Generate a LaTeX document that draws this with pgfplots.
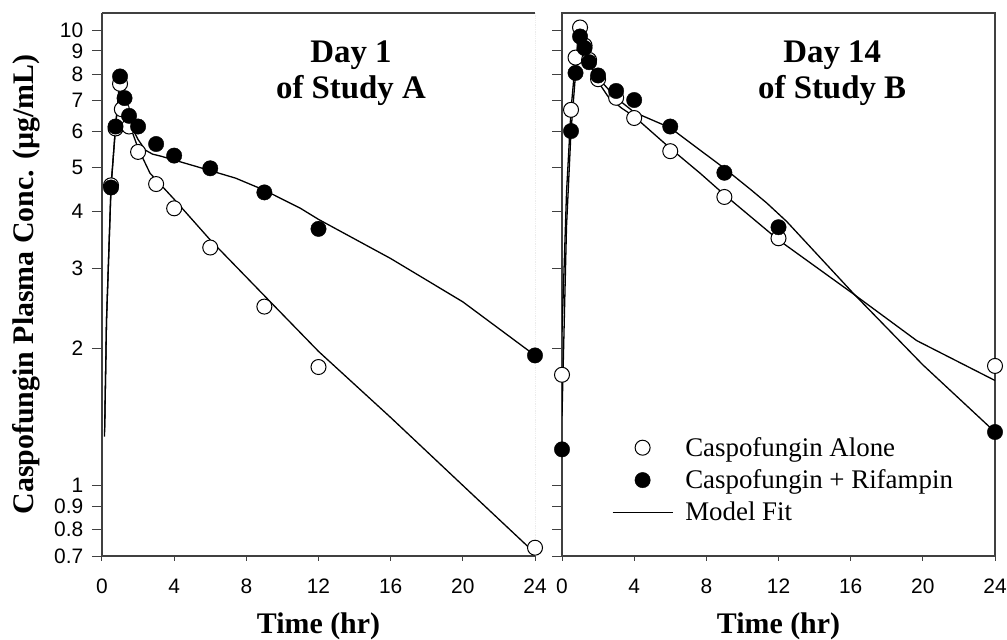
\documentclass[border=0pt]{standalone}
\usepackage{fontspec}
\setmainfont{Liberation Serif}
\setsansfont{Liberation Sans}
\usepackage{pgfplots}
\pgfplotsset{compat=1.18}

\pgfplotsset{
  pkpanel/.style={
    scale only axis, width=433bp, height=543bp,
    anchor=south west,
    xmin=0, xmax=24, ymin=0.7, ymax=10.9,
    xtick={0,4,...,24},
    ytick={0.7,0.8,0.9,1,2,3,4,5,6,7,8,9,10},
    minor ytick={}, minor xtick={},
    tick align=outside, tick pos=left,
    xtick style={/pgfplots/major tick length=5bp, line width=1bp, black!75},
    ytick style={/pgfplots/major tick length=10bp, line width=1bp, black!75},
    /pgf/number format/assume math mode=true,
    xticklabel style={font=\fontsize{21}{24}\selectfont\sffamily, yshift=-15bp},
    yticklabel style={font=\fontsize{21}{24}\selectfont\sffamily, xshift=-11bp},
    axis line style={black!75, line width=1.2bp},
    xlabel={\textbf{Time (hr)}},
    xlabel style={font=\fontsize{30}{32}\selectfont, at={(axis description cs:0.5,0)}, anchor=base, yshift=-77bp},
  },
  pkfit/.style={black, line width=1.3bp, no markers},
  pkalone/.style={only marks, mark=*, mark size=7.5bp, mark options={fill=white, draw=black, line width=1bp}},
  pkrif/.style={only marks, mark=*, mark size=7.7bp, mark options={fill=black, draw=black}},
}

\begin{document}
\begin{tikzpicture}
\useasboundingbox (-102bp,-84bp) rectangle (905bp,556bp);

% Day 1, study A
\begin{axis}[ymode=log, pkpanel, at={(0bp,0bp)},
  axis y line*=left, axis x line*=box,
  xticklabels={0,4,8,12,16,20,24},
  yticklabels={0.7,0.8,0.9,1,2,3,4,5,6,7,8,9,10},
  ylabel={\textbf{Caspofungin Plasma Conc. (µg/mL)}},
  ylabel style={font=\fontsize{30}{32}\selectfont, at={(axis description cs:-0.159,0.5)}, anchor=base},
]
\addplot[pkfit] coordinates {(0.14,1.28) (0.25,2.3) (0.5,4.55) (0.75,6.1) (1,7.75) (1.25,7.0) (1.5,6.25) (2,5.5) (2.66,4.85) (4,4.25) (6,3.46) (9,2.61) (12,1.97) (16,1.41) (20,1.0) (24,0.71)};
\addplot[pkfit] coordinates {(0.15,1.34) (0.25,2.3) (0.5,4.5) (0.75,6.15) (1,7.9) (1.25,7.05) (1.5,6.3) (2,5.75) (2.4,5.45) (2.8,5.34) (3.3,5.28) (5.2,5.02) (7.4,4.73) (9,4.45) (11,4.06) (12,3.84) (16,3.15) (20,2.53) (24,1.93)};
\addplot[pkalone] coordinates {(0.5,4.56) (0.75,6.08) (1,7.62) (1.1,6.7) (1.5,6.14) (2,5.40) (3,4.59) (4,4.06) (6,3.33) (9,2.47) (12,1.82) (24,0.73)};
\addplot[pkrif] coordinates {(0.5,4.51) (0.75,6.14) (1,7.91) (1.25,7.09) (1.5,6.48) (2,6.14) (3,5.62) (4,5.30) (6,4.97) (9,4.40) (12,3.66) (24,1.93)};
\draw[black!60, line width=0.8bp, densely dotted] (rel axis cs:1,0) -- (rel axis cs:1,1);
\node[font=\fontsize{33}{37}\selectfont\bfseries, align=center, anchor=north, inner sep=0pt] at (rel axis cs:0.575,0.95) {Day 1\\of Study A};
\end{axis}

% Day 14, study B
\begin{axis}[ymode=log, pkpanel, at={(460bp,0bp)},
  xticklabels={0,4,8,12,16,20,24},
  yticklabels={},
  legend style={draw=none, fill=none, at={(0.108,0.14)}, anchor=west,
    font=\fontsize{27}{30}\selectfont, row sep=8bp,
    /tikz/every odd column/.style={column sep=10bp}},
  legend cell align=left,
  legend image code/.code={\draw[mark repeat=2,mark phase=2,#1] plot coordinates {(0bp,0bp) (30bp,0bp) (60bp,0bp)};},
]
\addplot[pkfit, forget plot] coordinates {(0,2.17) (0.25,4.4) (0.5,6.7) (0.75,8.6) (1,10.0) (1.25,9.1) (1.5,8.5) (2,7.7) (2.6,7.1) (3.3,6.74) (4,6.46) (6,5.5) (7.65,4.85) (9,4.35) (12,3.46) (16,2.66) (19.66,2.08) (24,1.70)};
\addplot[pkfit, forget plot] coordinates {(0,1.42) (0.25,3.7) (0.5,6.0) (0.75,8.0) (1,9.7) (1.25,9.05) (1.5,8.45) (2,7.85) (3,7.1) (4,6.6) (6,6.1) (7.65,5.45) (9,4.97) (10.5,4.45) (11.35,4.17) (12.45,3.8) (16.15,2.64) (20,1.84) (24,1.31)};
\addplot[pkalone, forget plot] coordinates {(0,1.75) (0.5,6.68) (0.75,8.7) (1,10.13) (1.25,9.25) (1.5,8.6) (2,7.8) (3,7.1) (4,6.41) (6,5.42) (9,4.30) (12,3.49) (24,1.83)};
\addplot[pkrif, forget plot] coordinates {(0,1.20) (0.5,6.0) (0.75,8.05) (1,9.68) (1.25,9.13) (1.5,8.5) (2,7.95) (3,7.35) (4,7.02) (6,6.14) (9,4.86) (12,3.69) (24,1.31)};
\addlegendimage{pkalone}
\addlegendentry{Caspofungin Alone}
\addlegendimage{pkrif}
\addlegendentry{Caspofungin + Rifampin}
\addlegendimage{pkfit}
\addlegendentry{Model Fit}
\node[font=\fontsize{33}{37}\selectfont\bfseries, align=center, anchor=north, inner sep=0pt] at (rel axis cs:0.624,0.95) {Day 14\\of Study B};
\end{axis}
\end{tikzpicture}
\end{document}
